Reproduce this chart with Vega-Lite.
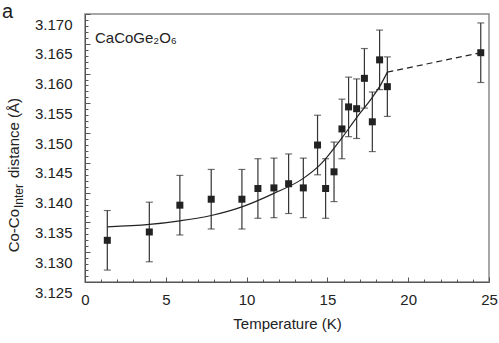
{
  "$schema": "https://vega.github.io/schema/vega-lite/v6.json",
  "width": 404,
  "height": 268,
  "autosize": {"type": "none"},
  "padding": {"left": 85, "top": 14, "right": 10, "bottom": 61},
  "background": "white",
  "config": {
    "view": {"stroke": "#8a8a8a", "strokeWidth": 1.5},
    "font": "Liberation Sans",
    "axis": {"domainColor": "#555555", "domainWidth": 1, "tickColor": "#555555", "labelColor": "#222222", "titleColor": "#222222", "labelFont": "Liberation Sans", "titleFont": "Liberation Sans", "labelFontSize": 15, "titleFontSize": 15, "titleFontWeight": "normal", "grid": false, "labelOverlap": false, "labelFlush": false}
  },
  "resolve": {"axis": {"x": "independent", "y": "independent"}},
  "datasets": {
    "points": [
      {"T": 1.38, "d": 3.1320, "lo": 3.1270, "hi": 3.1370},
      {"T": 3.98, "d": 3.1334, "lo": 3.1284, "hi": 3.1384},
      {"T": 5.87, "d": 3.1379, "lo": 3.1329, "hi": 3.1429},
      {"T": 7.81, "d": 3.1389, "lo": 3.1339, "hi": 3.1439},
      {"T": 9.71, "d": 3.1389, "lo": 3.1339, "hi": 3.1439},
      {"T": 10.70, "d": 3.1407, "lo": 3.1357, "hi": 3.1457},
      {"T": 11.69, "d": 3.1408, "lo": 3.1358, "hi": 3.1458},
      {"T": 12.60, "d": 3.1415, "lo": 3.1365, "hi": 3.1465},
      {"T": 13.51, "d": 3.1408, "lo": 3.1358, "hi": 3.1458},
      {"T": 14.39, "d": 3.1480, "lo": 3.1430, "hi": 3.1530},
      {"T": 14.89, "d": 3.1407, "lo": 3.1357, "hi": 3.1457},
      {"T": 15.41, "d": 3.1435, "lo": 3.1385, "hi": 3.1485},
      {"T": 15.90, "d": 3.1507, "lo": 3.1457, "hi": 3.1557},
      {"T": 16.31, "d": 3.1544, "lo": 3.1494, "hi": 3.1594},
      {"T": 16.81, "d": 3.1541, "lo": 3.1491, "hi": 3.1591},
      {"T": 17.29, "d": 3.1592, "lo": 3.1542, "hi": 3.1642},
      {"T": 17.78, "d": 3.1519, "lo": 3.1469, "hi": 3.1569},
      {"T": 18.23, "d": 3.1623, "lo": 3.1573, "hi": 3.1673},
      {"T": 18.71, "d": 3.1578, "lo": 3.1528, "hi": 3.1628},
      {"T": 24.49, "d": 3.1635, "lo": 3.1585, "hi": 3.1685}
    ],
    "fit": [
      {"T": 1.38, "d": 3.13426},
      {"T": 3.98, "d": 3.13466},
      {"T": 5.87, "d": 3.13527},
      {"T": 7.81, "d": 3.13617},
      {"T": 9.71, "d": 3.13762},
      {"T": 11.69, "d": 3.13988},
      {"T": 13.51, "d": 3.14240},
      {"T": 14.56, "d": 3.14470},
      {"T": 15.90, "d": 3.14920},
      {"T": 16.81, "d": 3.15260},
      {"T": 17.78, "d": 3.15600},
      {"T": 18.23, "d": 3.15780},
      {"T": 18.71, "d": 3.16024}
    ],
    "ext": [
      {"T": 18.71, "d": 3.16024},
      {"T": 24.49, "d": 3.16350}
    ]
  },
  "layer": [
    {
      "data": {"name": "points"},
      "mark": {"type": "rule", "color": "#333333", "strokeWidth": 1.2},
      "encoding": {
        "x": {"field": "T", "type": "quantitative", "scale": {"domain": [0, 25], "nice": false, "zero": false},
          "axis": {"orient": "bottom", "title": "Temperature (K)", "values": [0, 5, 10, 15, 20, 25],
            "tickSize": -5, "labelPadding": 15, "titlePadding": 9}},
        "y": {"field": "lo", "type": "quantitative", "scale": {"domain": [3.125, 3.17], "nice": false, "zero": false},
          "axis": {"orient": "left", "title": null, "values": [3.125, 3.13, 3.135, 3.14, 3.145, 3.15, 3.155, 3.16, 3.165, 3.17],
            "format": ".3f", "tickSize": -5, "labelOffset": 10, "labelPadding": 18}},
        "y2": {"field": "hi"}
      }
    },
    {
      "data": {"name": "points"},
      "mark": {"type": "tick", "orient": "horizontal", "size": 7, "thickness": 1.2, "color": "#333333"},
      "encoding": {
        "x": {"field": "T", "type": "quantitative",
          "axis": {"orient": "bottom", "title": null, "labels": false, "domain": false, "tickSize": -3,
            "values": [0,1,2,3,4,6,7,8,9,11,12,13,14,16,17,18,19,21,22,23,24]}},
        "y": {"field": "lo", "type": "quantitative",
          "axis": {"orient": "left", "title": null, "labels": false, "domain": false, "tickSize": -3,
            "values": [3.126,3.127,3.128,3.129,3.131,3.132,3.133,3.134,3.136,3.137,3.138,3.139,3.141,3.142,3.143,3.144,3.146,3.147,3.148,3.149,3.151,3.152,3.153,3.154,3.156,3.157,3.158,3.159,3.161,3.162,3.163,3.164,3.166,3.167,3.168,3.169]}}
      }
    },
    {
      "data": {"name": "points"},
      "mark": {"type": "tick", "orient": "horizontal", "size": 7, "thickness": 1.2, "color": "#333333"},
      "encoding": {
        "x": {"field": "T", "type": "quantitative", "axis": null},
        "y": {"field": "hi", "type": "quantitative", "axis": null}
      }
    },
    {
      "data": {"name": "fit"},
      "mark": {"type": "line", "color": "#222222", "strokeWidth": 1.2, "interpolate": "monotone"},
      "encoding": {
        "x": {"field": "T", "type": "quantitative", "axis": null},
        "y": {"field": "d", "type": "quantitative", "axis": null}
      }
    },
    {
      "data": {"name": "ext"},
      "mark": {"type": "line", "color": "#222222", "strokeWidth": 1.2, "strokeDash": [6, 4]},
      "encoding": {
        "x": {"field": "T", "type": "quantitative", "axis": null},
        "y": {"field": "d", "type": "quantitative", "axis": null}
      }
    },
    {
      "data": {"name": "points"},
      "mark": {"type": "point", "shape": "square", "filled": true, "size": 49, "color": "#222222", "opacity": 1},
      "encoding": {
        "x": {"field": "T", "type": "quantitative", "axis": null},
        "y": {"field": "d", "type": "quantitative", "axis": null}
      }
    },
    {
      "data": {"values": [{}]},
      "mark": {"type": "text", "text": "Co-Co", "angle": 270, "align": "right", "baseline": "alphabetic", "fontSize": 15, "color": "#222222", "dy": -66},
      "encoding": {"x": {"datum": 0, "axis": null}, "y": {"datum": 3.13726, "axis": null}}
    },
    {
      "data": {"values": [{}]},
      "mark": {"type": "text", "text": "Inter", "angle": 270, "align": "left", "baseline": "alphabetic", "fontSize": 12, "color": "#222222", "dx": 1, "dy": -62},
      "encoding": {"x": {"datum": 0, "axis": null}, "y": {"datum": 3.13726, "axis": null}}
    },
    {
      "data": {"values": [{}]},
      "mark": {"type": "text", "text": "distance (Å)", "angle": 270, "align": "left", "baseline": "alphabetic", "fontSize": 15, "color": "#222222", "dx": 31, "dy": -66},
      "encoding": {"x": {"datum": 0, "axis": null}, "y": {"datum": 3.13726, "axis": null}}
    },
    {
      "data": {"values": [{}]},
      "mark": {"type": "text", "text": "a", "align": "left", "baseline": "alphabetic", "fontSize": 20, "color": "#222222", "dx": -83, "dy": 4},
      "encoding": {"x": {"datum": 0, "axis": null}, "y": {"datum": 3.17, "axis": null}}
    },
    {
      "data": {"values": [{}]},
      "mark": {"type": "text", "text": "CaCoGe₂O₆", "align": "left", "baseline": "alphabetic", "fontSize": 15, "color": "#222222", "dx": 10, "dy": 29},
      "encoding": {"x": {"datum": 0, "axis": null}, "y": {"datum": 3.17, "axis": null}}
    }
  ]
}
